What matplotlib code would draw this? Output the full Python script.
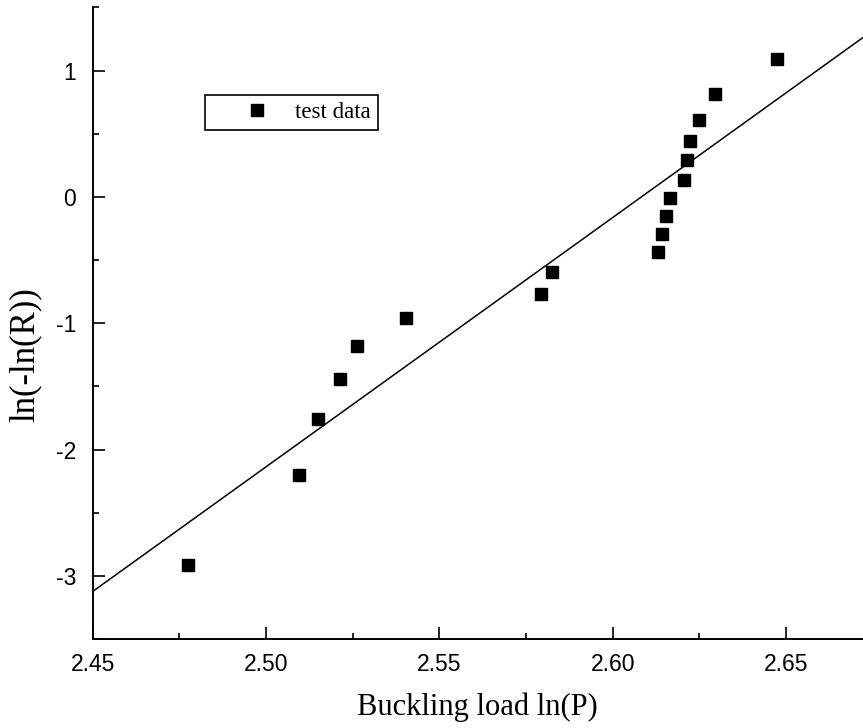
import matplotlib
matplotlib.use("Agg")
import matplotlib.pyplot as plt
import numpy as np
from matplotlib.ticker import MultipleLocator, FormatStrFormatter

# Weibull plot of buckling test results
ln_p = [2.4774, 2.5095, 2.5149, 2.5214, 2.5262, 2.5404, 2.5793, 2.5826,
        2.6130, 2.6143, 2.6155, 2.6164, 2.6207, 2.6213, 2.6224, 2.6250,
        2.6295, 2.6473]
ln_r = [-2.916, -2.204, -1.761, -1.439, -1.183, -0.959, -0.767, -0.593,
        -0.434, -0.290, -0.150, -0.007, 0.138, 0.291, 0.444, 0.612,
        0.813, 1.093]

# linear fit  y = a*x + b
fit_slope = 19.74
fit_intercept = -51.487

x_min, x_max = 2.45, 2.6722
y_min, y_max = -3.5, 1.5

plt.rcParams['axes.unicode_minus'] = False

fig = plt.figure(figsize=(8.63, 7.28), dpi=100)
ax = fig.add_axes([0.1074, 0.1223, 0.8926, 0.8674])

ax.plot(ln_p, ln_r, 's', color='black', markersize=8, label='test data',
        clip_on=False)
xf = np.array([x_min, x_max])
ax.plot(xf, fit_slope * xf + fit_intercept, color='black', lw=1.1)

ax.set_xlim(x_min, x_max)
ax.set_ylim(y_min, y_max)

for s in ['top', 'right']:
    ax.spines[s].set_visible(False)
for s in ['left', 'bottom']:
    ax.spines[s].set_linewidth(1.4)

ax.xaxis.set_major_locator(MultipleLocator(0.05))
ax.xaxis.set_minor_locator(MultipleLocator(0.025))
ax.yaxis.set_major_locator(MultipleLocator(1))
ax.yaxis.set_minor_locator(MultipleLocator(0.5))
ax.xaxis.set_major_formatter(FormatStrFormatter('%.2f'))
ax.yaxis.set_major_formatter(FormatStrFormatter('%d'))

ax.tick_params(which='both', direction='in', top=False, right=False, width=1.2)
ax.tick_params(which='major', length=8.6, labelsize=16.5)
ax.tick_params(which='minor', length=4.3)
ax.tick_params(axis='x', which='major', pad=10)
ax.tick_params(axis='y', which='major', pad=12)
for lab in ax.get_xticklabels() + ax.get_yticklabels():
    lab.set_fontfamily('Liberation Sans')

ax.set_xlabel('Buckling load ln(P)', fontfamily='Liberation Serif', fontsize=22)
ax.set_ylabel('ln(-ln(R))', fontfamily='Liberation Serif', fontsize=25)
ax.xaxis.set_label_coords(0.5, -0.085)
ax.yaxis.set_label_coords(-0.066, 0.451)

leg = ax.legend(loc='upper left', bbox_to_anchor=(205 / 863, 1 - 95 / 728),
                bbox_transform=fig.transFigure, borderaxespad=0,
                prop={'family': 'Liberation Serif', 'size': 16.5},
                fancybox=False, edgecolor='black', framealpha=1,
                borderpad=0.3, handlelength=3.94, handletextpad=-0.31,
                numpoints=1)
leg.get_frame().set_linewidth(1.2)

fig.savefig('out.png', dpi=100)
